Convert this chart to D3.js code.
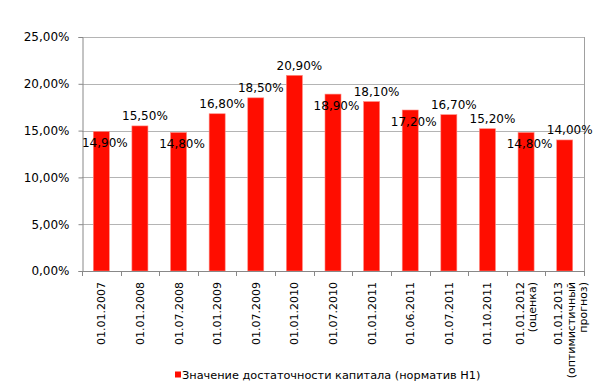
<!DOCTYPE html>
<html>
<head>
<meta charset="utf-8">
<script src="https://cdn.jsdelivr.net/npm/d3@7"></script>
<style>
  html, body { margin: 0; padding: 0; background: #fff; }
  svg { display: block; font-family: "DejaVu Sans", Verdana, sans-serif; }
</style>
</head>
<body>
<svg id="chart" width="600" height="385"></svg>
<script>
// ---- data ----
const categories = [
  "01.01.2007", "01.01.2008", "01.07.2008", "01.01.2009", "01.07.2009",
  "01.01.2010", "01.07.2010", "01.01.2011", "01.06.2011", "01.07.2011",
  "01.10.2011", "01.01.2012\n(оценка)", "01.01.2013\n(оптимистичный\nпрогноз)"
];
const values = [14.9, 15.5, 14.8, 16.8, 18.5, 20.9, 18.9, 18.1, 17.2, 16.7, 15.2, 14.8, 14.0];
const valueLabels = ["14,90%", "15,50%", "14,80%", "16,80%", "18,50%", "20,90%", "18,90%",
                     "18,10%", "17,20%", "16,70%", "15,20%", "14,80%", "14,00%"];
const labelPlacement = ["in", "out", "in", "out", "out", "out", "in", "out", "in", "out", "out", "in", "out"];
const yTicks = [0, 5, 10, 15, 20, 25];
const yTickLabels = ["0,00%", "5,00%", "10,00%", "15,00%", "20,00%", "25,00%"];
const seriesName = "Значение достаточности капитала (норматив Н1)";

// ---- layout ----
const svg = d3.select("#chart");
const plotL = 82, plotR = 584, plotT = 37, plotB = 271;
const barColor = "#ff0d00";

const x = d3.scaleBand().domain(d3.range(categories.length))
  .range([plotL, plotR]).paddingInner(0.585).paddingOuter(0.2925);
const y = d3.scaleLinear().domain([0, 25]).range([plotB, plotT]);

// gridlines
svg.append("g").selectAll("line").data(yTicks.slice(1)).join("line")
  .attr("x1", plotL).attr("x2", plotR)
  .attr("y1", d => Math.round(y(d)) + 0.5).attr("y2", d => Math.round(y(d)) + 0.5)
  .attr("stroke", "#b4b4b4").attr("stroke-width", 1);

// right border
svg.append("line").attr("x1", plotR + 0.5).attr("x2", plotR + 0.5)
  .attr("y1", plotT).attr("y2", plotB).attr("stroke", "#a0a0a0");

// y axis
const yAxis = d3.axisLeft(y).tickValues(yTicks).tickSize(4).tickPadding(9)
  .tickFormat((d, i) => yTickLabels[i]);
const gy = svg.append("g").attr("transform", `translate(${plotL + 0.5},0)`).call(yAxis);
gy.select(".domain").attr("stroke", "#888");
gy.selectAll(".tick line").attr("stroke", "#888");
gy.selectAll(".tick text").attr("font-size", 12).attr("fill", "#000")
  .attr("font-family", "DejaVu Sans, Verdana, sans-serif");

// bars
svg.append("g").selectAll("rect").data(values).join("rect")
  .attr("x", (d, i) => x(i)).attr("width", x.bandwidth())
  .attr("y", d => y(d)).attr("height", d => plotB - y(d))
  .attr("fill", barColor).attr("stroke", "#ff8a80").attr("stroke-width", 0.6);

// x axis line and boundary ticks
svg.append("line").attr("x1", plotL).attr("x2", plotR + 1)
  .attr("y1", plotB + 0.5).attr("y2", plotB + 0.5).attr("stroke", "#888");
const step = x.step();
svg.append("g").selectAll("line").data(d3.range(categories.length + 1)).join("line")
  .attr("x1", i => Math.round(plotL + i * step) + 0.5).attr("x2", i => Math.round(plotL + i * step) + 0.5)
  .attr("y1", plotB).attr("y2", plotB + 5).attr("stroke", "#888");

// category labels (rotated)
const lh = 12.5;
const catG = svg.append("g");
categories.forEach((c, i) => {
  const lines = c.split("\n");
  const cx = x(i) + x.bandwidth() / 2 + (lines.length > 2 ? 6 : 0);
  lines.forEach((ln, j) => {
    const lx = cx + (j - (lines.length - 1) / 2) * lh;
    catG.append("text")
      .attr("transform", `translate(${lx},${plotB + 11}) rotate(-90)`)
      .attr("text-anchor", "end").attr("dy", "0.36em")
      .attr("font-size", 11).attr("fill", "#000")
      .text(ln);
  });
});

// value labels
svg.append("g").selectAll("text").data(values).join("text")
  .attr("x", (d, i) => x(i) + x.bandwidth() / 2 + (labelPlacement[i] === "out" ? 5 : 3.5))
  .attr("y", (d, i) => y(d) + (labelPlacement[i] === "out" ? -10 : 11.5))
  .attr("dy", "0.36em").attr("text-anchor", "middle")
  .attr("font-size", 12).attr("fill", "#000")
  .text((d, i) => valueLabels[i]);

// legend
const lg = svg.append("g");
lg.append("rect").attr("x", 175).attr("y", 371.5).attr("width", 6).attr("height", 6).attr("fill", barColor);
lg.append("text").attr("x", 182).attr("y", 374.5).attr("dy", "0.36em")
  .attr("font-size", 11.3).attr("fill", "#000").text(seriesName);
</script>
</body>
</html>
